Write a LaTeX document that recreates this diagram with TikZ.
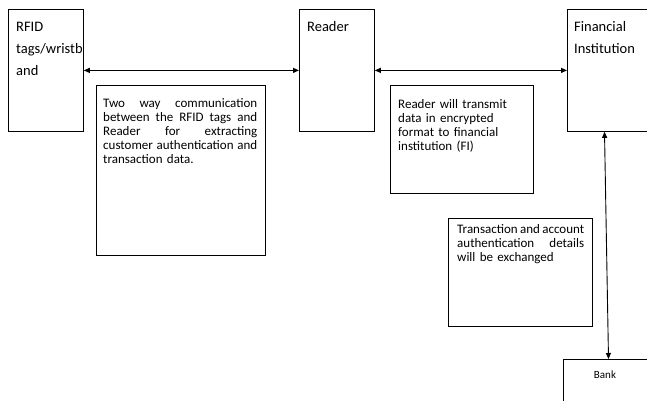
\documentclass[tikz,border=0pt]{standalone}
\usepackage{fontspec}
\setmainfont{Carlito}
\usetikzlibrary{arrows.meta,calc}
\begin{document}
\begin{tikzpicture}[x=1pt,y=-1pt,
  frame/.style={draw, line width=0.8pt, anchor=north west, inner sep=0pt},
  boxtitle/.style={anchor=north west, inner sep=0pt, align=left,
    font=\fontsize{14.5}{22}\selectfont},
  note/.style={anchor=north west, inner sep=0pt, align=left,
    font=\fontsize{13}{14.2}\selectfont},
  tip/.tip={Triangle[length=6pt,width=5pt]},
  link/.style={tip-tip, line width=1.1pt}
]
\useasboundingbox (0,0) rectangle (647,401);

% main blocks
\node[frame, minimum width=75pt, minimum height=122pt] (rfid) at (8,9) {};
\node[frame, minimum width=75pt, minimum height=122pt] (reader) at (299,9) {};
\node[frame, minimum width=90pt, minimum height=122pt] (fi) at (567,9) {};
\node[frame, minimum width=90pt, minimum height=50pt] (bank) at (563,359) {};

% block titles
\node[boxtitle] (rfidtitle) at (16,21.5) {RFID\\tags/wristb\\and};
\node[boxtitle] (readertitle) at (307,21.5) {Reader};
\node[boxtitle] (fititle) at (574,21.5) {Financial\\Institution};
\node[font=\fontsize{11}{13}\selectfont, inner sep=0pt] (banktitle) at (605,375) {Bank};

% explanatory notes
\node[frame, minimum width=169pt, minimum height=170pt] (n1) at (95.5,85) {};
\node[note, text width=154pt] (n1text) at (103,98)
  {Two\hfill way\hfill communication\\
   between\hfill the\hfill RFID\hfill tags\hfill and\\
   Reader\hfill for\hfill extracting\\
   customer\hfill authentication\hfill and\\
   transaction data.};

\node[frame, minimum width=143pt, minimum height=108pt] (n2) at (390,85) {};
\node[note, text width=130pt] (n2text) at (398,99)
  {Reader will transmit\\
   data in encrypted\\
   format to financial\\
   institution (FI)};

\node[frame, minimum width=144pt, minimum height=108pt] (n3) at (448,218) {};
\node[note, text width=127pt] (n3text) at (457,224)
  {Transaction\hfill and\hfill account\\
   authentication\hfill details\\
   will be exchanged};

% connectors
\draw[link] (rfid.east) -- (reader.west);
\draw[link] (reader.east) -- (fi.west);
\draw[link, line width=0.9pt] ($(fi.south west)+(37.5,0)$) -- ($(bank.north west)+(45.5,0)$);
\end{tikzpicture}
\end{document}
